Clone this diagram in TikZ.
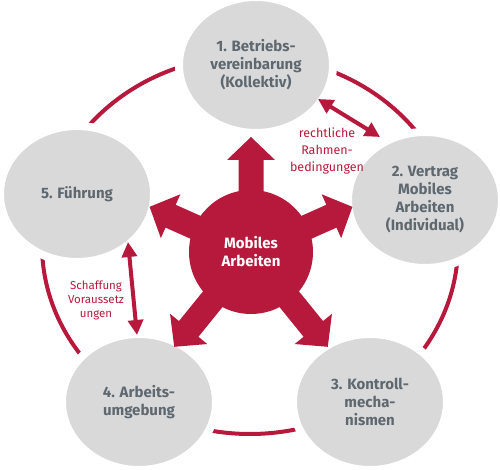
\documentclass[tikz,border=0pt]{standalone}
\usepackage{fontspec}
\setmainfont{Fira Sans}
\usetikzlibrary{shapes.geometric,arrows.meta}
\definecolor{weinrot}{RGB}{183,25,60}
\definecolor{hellgrau}{RGB}{217,217,217}
\definecolor{schiefer}{RGB}{94,104,112}

\begin{document}
\begin{tikzpicture}[x=1pt,y=1pt]
    % ==========================
    % Einstellungen
    % ==========================
    \def\rx{208} % Halbachse des Rings (waagrecht)
    \def\ry{189} % Halbachse des Rings (senkrecht)
    \tikzset{
        feld/.style={ellipse, fill=hellgrau, draw=white, line width=8pt, minimum width=154pt, minimum height=136pt, inner sep=0pt, align=center, text=schiefer, font=\fontsize{15}{18}\selectfont\bfseries}, % graue Felder
        hinweis/.style={align=center, text=weinrot, font=\fontsize{12.5}{17}\selectfont}, % rote Beschriftung
        doppelpfeil/.style={draw=weinrot, line width=4pt, {Triangle[length=15pt,width=15pt]}-{Triangle[length=15pt,width=15pt]}}
    }
    \useasboundingbox (0,0) rectangle (500,470);

    % ==========================
    % 1. Ring
    % ==========================
    \coordinate (M) at (250,225);
    \draw[weinrot, line width=4pt] (M) ellipse [x radius=\rx, y radius=\ry];

    % ==========================
    % 2. Die fuenf Felder
    % ==========================
    \node[feld] (kollektiv) at (256,405) {1. Betriebs-\\vereinbarung\\(Kollektiv)};
    \node[feld] (vertrag)   at (425,270) {2. Vertrag\\Mobiles\\Arbeiten\\(Individual)};
    \node[feld] (kontrolle) at (370,68)  {3. Kontroll-\\mecha-\\nismen};
    \node[feld] (umgebung)  at (139,68)  {4. Arbeits-\\umgebung};
    \node[feld] (fuehrung)  at (77,276)  {5. Führung};

    % ==========================
    % 3. Stern in der Mitte
    % ==========================
    \coordinate (Z) at (251,218);
    \foreach \w/\l in {90/115, 24/111, -51/122, -129/122, 156/111} {
        \fill[weinrot, shift={(Z)}, rotate=\w]
            (0,-12.5) -- (\l-23,-12.5) -- (\l-23,-24) -- (\l,0)
            -- (\l-23,24) -- (\l-23,12.5) -- (0,12.5) -- cycle;
    }
    \node[circle, fill=weinrot, minimum size=124pt, inner sep=0pt, align=center, text=white, font=\fontsize{15}{18}\selectfont\bfseries] (mobil) at (Z) {Mobiles\\Arbeiten};

    % ==========================
    % 4. Doppelpfeile und Hinweise
    % ==========================
    \coordinate (r1) at (318,371); % an Feld 1
    \coordinate (r2) at (380,333); % an Feld 2
    \draw[doppelpfeil] (r1) -- (r2);
    \node[hinweis] (rahmen) at (327,319) {rechtliche\\Rahmen-\\bedingungen};

    \coordinate (s1) at (128,228); % an Feld 5
    \coordinate (s2) at (137,135); % an Feld 4
    \draw[doppelpfeil] (s1) -- (s2);
    \node[hinweis, font=\fontsize{11.5}{14}\selectfont] (voraus) at (96,170) {Schaffung\\Voraussetz\\ungen};

\end{tikzpicture}
\end{document}
